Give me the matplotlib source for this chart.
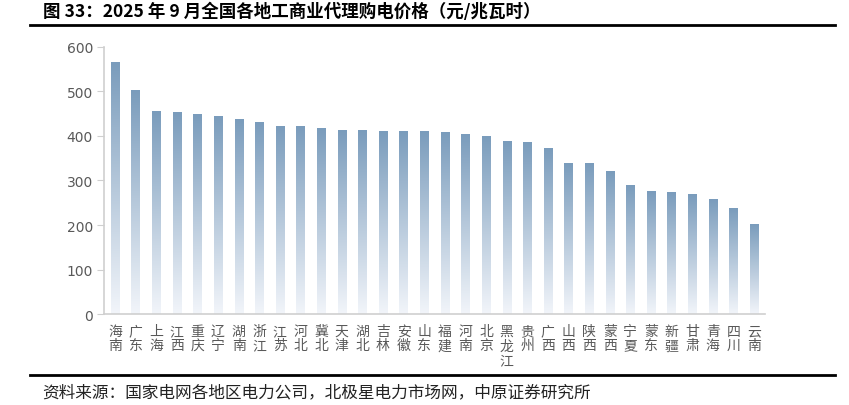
import numpy as np
import matplotlib.pyplot as plt
from matplotlib.colors import LinearSegmentedColormap

plt.rcParams['font.family'] = ['Noto Sans CJK SC', 'DejaVu Sans']

TITLE = "图 33：2025 年 9 月全国各地工商业代理购电价格（元/兆瓦时）"
SOURCE = "资料来源：国家电网各地区电力公司，北极星电力市场网，中原证券研究所"

regions = ["海南", "广东", "上海", "江西", "重庆", "辽宁", "湖南", "浙江",
           "江苏", "河北", "冀北", "天津", "湖北", "吉林", "安徽", "山东",
           "福建", "河南", "北京", "黑龙江", "贵州", "广西", "山西", "陕西",
           "蒙西", "宁夏", "蒙东", "新疆", "甘肃", "青海", "四川", "云南"]
prices = [564, 502, 455, 452, 447, 443, 436, 429,
          422, 422, 416, 413, 413, 411, 411, 411,
          407, 404, 399, 388, 386, 372, 339, 339,
          321, 288, 276, 273, 269, 257, 236, 202]
y_ticks = [0, 100, 200, 300, 400, 500, 600]

TOP_COLOR = "#7a9cbc"
BOTTOM_COLOR = "#f2f5fa"
AXIS_COLOR = "#cfcfcf"
TEXT_COLOR = "#595959"


def main():
    fig = plt.figure(figsize=(8.49, 4.06), dpi=100)
    ax = fig.add_axes([0.1225, 0.224, 0.7785, 0.658])

    x = np.arange(len(regions))
    width = 0.4
    bars = ax.bar(x, prices, width=width, color="none", edgecolor="none")

    # vertical gradient inside each bar
    cmap = LinearSegmentedColormap.from_list("grad", [BOTTOM_COLOR, TOP_COLOR])
    grad = np.linspace(0, 1, 256).reshape(-1, 1)
    for b in bars:
        x0 = b.get_x()
        h = b.get_height()
        ax.imshow(grad, cmap=cmap, aspect="auto", origin="lower",
                  extent=[x0, x0 + width, 0, h], zorder=2)

    ax.set_xlim(-0.53, len(regions) - 0.47)
    ax.set_ylim(0, 600)
    ax.set_yticks(y_ticks)
    ax.set_yticklabels([str(v) for v in y_ticks], color=TEXT_COLOR,
                       fontsize=10, family="DejaVu Sans")

    ax.set_xticks(x)
    ax.set_xticklabels(["\n".join(r) for r in regions], color=TEXT_COLOR,
                       fontsize=10, linespacing=1.05, va="top")

    ax.tick_params(axis="y", length=5, color=AXIS_COLOR, pad=3)
    ax.tick_params(axis="x", length=0, pad=7)

    for side in ["top", "right"]:
        ax.spines[side].set_visible(False)
    for side in ["left", "bottom"]:
        ax.spines[side].set_color(AXIS_COLOR)
        ax.spines[side].set_linewidth(1.2)

    # title, rules and source note
    fig.text(43 / 849, 1 - 12 / 406, TITLE, fontsize=12.6, fontweight="bold",
             ha="left", va="center", color="black")
    fig.add_artist(plt.Line2D([30 / 849, 835 / 849], [1 - 26 / 406, 1 - 26 / 406],
                              color="black", lw=2))
    fig.add_artist(plt.Line2D([30 / 849, 835 / 849], [1 - 376 / 406, 1 - 376 / 406],
                              color="black", lw=2))
    fig.text(42 / 849, 1 - 393 / 406, SOURCE, fontsize=12,
             ha="left", va="center", color="#222222")

    fig.savefig("out.png", dpi=100)
    plt.close(fig)


if __name__ == "__main__":
    main()
